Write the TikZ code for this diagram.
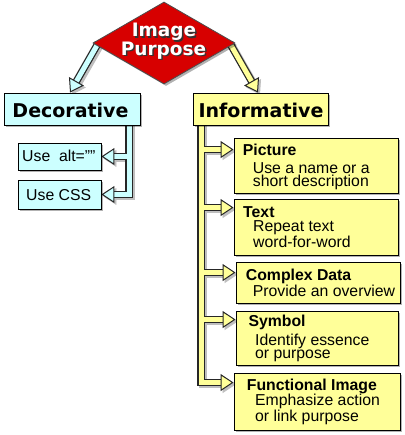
\documentclass[tikz,border=0pt]{standalone}
\usepackage{fontspec}
\setmainfont{Liberation Sans}
\newfontfamily\dejavu{DejaVu Sans}
\usetikzlibrary{shapes.geometric,arrows.meta,shadows,calc}
\definecolor{ipred}{RGB}{215,0,0}
\definecolor{decc}{RGB}{204,255,255}
\definecolor{infc}{RGB}{255,255,153}
\pgfdeclarelayer{shad}
\pgfdeclarelayer{conn}
\pgfsetlayers{shad,conn,main}
\tikzset{
  boxshadow/.style={drop shadow={shadow xshift=2pt,shadow yshift=-2pt,fill=black,opacity=0.3}},
  box/.style={draw=black, line width=0.9pt, inner sep=0pt, boxshadow},
  decbox/.style={box, fill=decc},
  infbox/.style={box, fill=infc},
  bigtxt/.style={font=\dejavu\bfseries\fontsize{19}{19}\selectfont, inner sep=0pt, anchor=base},
  iptxt/.style={font=\dejavu\bfseries\fontsize{18.5}{18.5}\selectfont, inner sep=0pt, anchor=base},
  smtxt/.style={font=\fontsize{15.8}{15.8}\selectfont, inner sep=0pt},
  ttl/.style={font=\bfseries\fontsize{15.8}{15.8}\selectfont, inner sep=0pt, anchor=base west},
  bdy/.style={font=\fontsize{15.8}{13.3}\selectfont, inner sep=0pt, anchor=base west, align=left},
  cshad/.style={draw=black!25, line width=7.5pt, transform canvas={xshift=2pt,yshift=-2pt},
    -{Triangle[length=13pt,width=17pt,line width=0.8pt]}},
  cout/.style={draw=black!85, line width=7.5pt, shorten >=11pt},
  cin/.style={draw=#1, line width=5pt,
    -{Triangle[length=13pt,width=17pt,fill=#1,color=black!85,line width=1pt]}},
}
\newcommand\allconns[1]{%
  \draw[#1=decc] ($(ip.west)!0.08!(ip.center)$) -- ([xshift=-2pt]dec.north);
  \draw[#1=infc] ($(ip.east)!0.08!(ip.center)$) -- ([xshift=-2.5pt]inf.north);
  \draw[#1=decc] ([xshift=57pt]dec.center) |- (css.east);
  \draw[#1=decc] ([xshift=57pt]dec.center) |- (alt.east);
  \draw[#1=infc] ([xshift=-59.5pt]inf.center) |- ([yshift=-10pt]func.north west);
  \draw[#1=infc] ([xshift=-59.5pt]inf.center) |- ([yshift=-9pt]sym.north west);
  \draw[#1=infc] ([xshift=-59.5pt]inf.center) |- ([yshift=-11pt]cplx.north west);
  \draw[#1=infc] ([xshift=-59.5pt]inf.center) |- ([yshift=-9pt]txt.north west);
  \draw[#1=infc] ([xshift=-59.5pt]inf.center) |- ([yshift=-12pt]pic.north west);
}
\begin{document}
\begin{tikzpicture}[x=1pt,y=-1pt]
\useasboundingbox (0,0) rectangle (404,435);
% top diamond
\node[diamond, draw=black!70, line width=0.8pt, fill=ipred, minimum width=142pt,
  minimum height=82pt, inner sep=0pt, boxshadow] (ip) at (164,43) {};
\node[iptxt, text=black!80] (ip1s) at (165.5,38.5) {Image};
\node[iptxt, text=white] (ip1) at (164,37) {Image};
\node[iptxt, text=black!80] (ip2s) at (165,57) {Purpose};
\node[iptxt, text=white] (ip2) at (163.5,55.5) {Purpose};
% boxes
\node[decbox, minimum width=136pt, minimum height=32pt] (dec) at (72,109) {};
\node[infbox, minimum width=135pt, minimum height=32pt] (inf) at (260.5,109) {};
\node[decbox, minimum width=83pt, minimum height=27pt] (alt) at (59.5,156.5) {};
\node[decbox, minimum width=83pt, minimum height=29pt] (css) at (59.5,194.5) {};
\node[infbox, minimum width=164pt, minimum height=55pt] (pic) at (316,165.5) {};
\node[infbox, minimum width=164pt, minimum height=56pt] (txt) at (316,227) {};
\node[infbox, minimum width=164pt, minimum height=41pt] (cplx) at (318,282.5) {};
\node[infbox, minimum width=162pt, minimum height=54pt] (sym) at (317,338) {};
\node[infbox, minimum width=166pt, minimum height=57pt] (func) at (317,401.5) {};
% texts
\node[bigtxt] (dect) at (70.5,117.3) {Decorative};
\node[bigtxt] (inft) at (261,117.3) {Informative};
\node[smtxt, anchor=base west] (altt) at (22,162) {Use\ \ alt=””};
\node[smtxt, anchor=base] (csst) at (58.7,200.7) {Use CSS};
\node[ttl] (pict) at (242.7,156) {Picture};
\node[bdy] (picb) at (252.7,187) {Use a name or a\\short description};
\node[ttl] (txtt) at (243,217) {Text};
\node[bdy] (txtb) at (253,247) {Repeat text\\word-for-word};
\node[ttl] (cplxt) at (245.7,280.7) {Complex Data};
\node[bdy] (cplxb) at (252.7,296.7) {Provide an overview};
\node[ttl] (symt) at (248.3,326.7) {Symbol};
\node[bdy] (symb) at (255,358.3) {Identify essence\\or purpose};
\node[ttl] (funct) at (246.7,390) {Functional Image};
\node[bdy] (funcb) at (255,421.7) {Emphasize action\\or link purpose};
% connectors
\begin{pgfonlayer}{shad}
  \allconns{cshad}
\end{pgfonlayer}
\begin{pgfonlayer}{conn}
  \allconns{cout}
  \allconns{cin}
\end{pgfonlayer}
\end{tikzpicture}
\end{document}
